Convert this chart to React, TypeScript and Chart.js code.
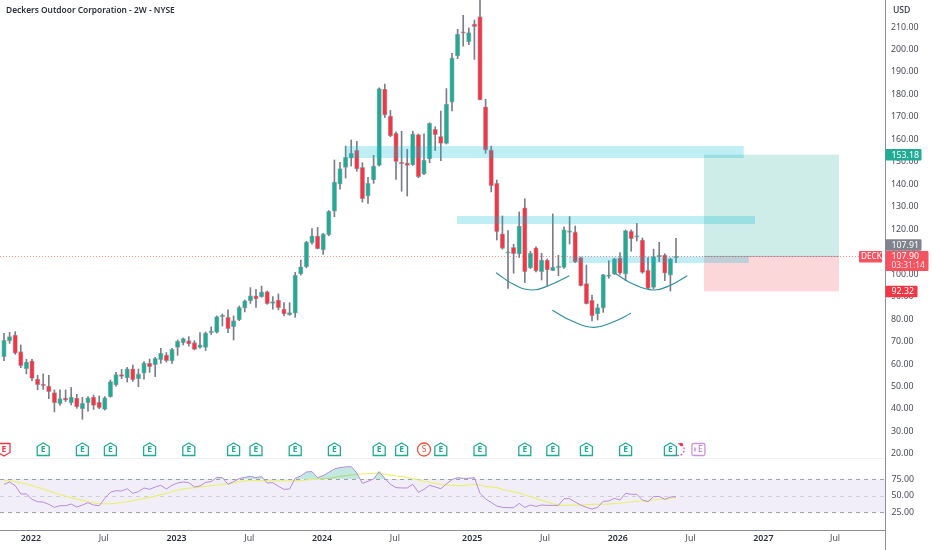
import React, { useEffect, useRef } from "react";
import { Chart, registerables } from "chart.js";

Chart.register(...registerables);

const chartTitle = "Deckers Outdoor Corporation - 2W - NYSE";
const FONT = '"Noto Sans", sans-serif';

const opens = [
  63.3,70.4,72.9,65.5,57.9,61.4,53.3,51.1,50.2,47.3,
  42.4,44.9,42.7,44.9,40.1,42.8,45.3,43.0,39.8,45.5,
  50.7,55.3,53.8,57.9,53.5,55.9,60.3,59.7,62.0,64.0,
  61.4,67.4,69.5,70.4,69.5,67.4,67.4,74.0,74.1,81.1,
  80.8,76.6,79.6,84.9,88.2,90.4,90.0,92.2,87.0,88.5,
  84.5,82.0,82.6,100.1,103.3,114.0,117.0,110.8,117.6,128.0,
  140.0,147.5,151.6,155.1,147.5,134.8,141.9,148.4,182.4,170.4,
  162.7,149.8,149.5,148.6,162.1,144.6,151.3,164.5,161.3,158.2,
  176.5,197.1,207.8,203.5,211.3,214.6,174.5,155.3,140.4,118.0,
  109.3,111.9,109.0,129.5,102.8,111.7,101.1,106.3,101.6,102.9,
  103.0,118.6,118.8,107.4,95.8,88.4,82.3,84.9,99.0,100.1,
  107.2,100.1,119.1,116.5,115.2,101.7,94.1,107.8,108.5,99.6,
  107.3,
];
const closes = [
  70.6,72.2,64.8,59.3,60.9,53.6,50.8,50.4,47.7,42.8,
  44.6,43.9,45.3,40.9,42.5,45.0,41.6,40.6,45.0,52.2,
  55.3,54.5,57.9,53.0,55.6,60.5,58.8,62.5,64.8,61.5,
  66.5,70.1,71.3,68.9,66.5,68.6,73.8,74.4,81.1,81.4,
  75.7,79.3,85.2,88.1,90.4,89.0,92.1,86.9,87.8,85.1,
  82.3,82.9,99.6,103.3,114.3,117.1,111.3,117.9,128.0,141.0,
  147.0,152.0,153.8,146.8,133.6,140.4,148.1,182.6,170.8,161.5,
  150.1,149.2,148.4,162.4,143.4,150.8,167.1,162.1,158.2,175.7,
  196.2,206.9,207.2,207.5,210.2,177.5,155.3,139.4,118.9,111.5,
  109.9,109.1,121.4,101.1,109.3,101.4,106.3,101.9,103.2,103.3,
  119.7,119.1,105.4,94.9,86.9,81.5,85.1,99.8,99.5,106.8,
  100.4,119.4,115.8,117.1,100.8,93.7,107.8,108.5,100.4,106.8,
  107.9,
];
const highs = [
  73.7,74.1,74.4,68.5,62.1,62.1,55.0,55.6,55.0,48.5,
  48.5,48.5,49.6,46.5,45.2,45.5,46.2,45.8,45.5,52.9,
  56.3,57.6,58.5,59.6,57.8,61.1,62.2,63.0,67.0,65.1,
  67.0,70.7,71.6,72.2,70.4,74.0,74.3,76.6,81.4,82.3,
  84.1,81.4,85.8,88.5,94.0,93.3,94.7,92.5,90.0,91.2,
  87.3,87.3,100.8,106.3,114.6,120.3,120.8,118.2,128.3,150.8,
  149.8,157.0,159.7,159.1,149.6,143.1,152.9,182.9,184.6,172.9,
  163.3,163.6,155.6,163.6,162.4,162.4,167.4,165.6,172.6,182.6,
  198.3,209.0,215.2,209.6,213.1,224.5,177.8,157.0,141.9,125.9,
  119.4,113.3,127.7,133.6,110.2,112.2,109.3,106.8,126.8,108.4,
  121.1,125.6,121.4,107.6,104.1,90.7,86.7,99.9,106.0,107.1,
  109.6,119.7,119.7,122.6,116.1,107.4,111.1,114.2,109.1,107.1,
  116.0,
];
const lows = [
  61.5,69.2,64.3,58.4,55.6,52.6,48.5,48.7,44.6,38.7,
  41.6,43.3,41.8,40.3,35.4,39.0,39.8,40.1,39.5,45.2,
  50.2,53.5,52.0,52.3,49.9,53.3,56.3,54.4,60.3,60.9,
  60.3,63.9,68.5,68.0,66.3,67.1,66.0,73.1,73.8,76.9,
  74.0,70.7,79.3,83.2,87.0,85.2,89.7,86.6,84.4,84.1,
  81.4,81.7,80.8,99.6,102.8,113.4,111.2,108.8,117.1,125.6,
  137.8,142.8,148.1,145.8,132.1,131.5,140.4,148.1,169.7,161.2,
  142.2,136.9,134.8,148.4,142.9,144.3,149.6,155.0,150.5,157.9,
  172.6,195.9,201.5,202.1,195.6,177.5,153.8,136.6,115.2,111.1,
  93.7,100.4,107.4,96.2,102.5,101.0,97.4,94.7,101.6,99.3,
  102.6,113.4,105.1,94.7,86.7,79.2,79.6,83.0,98.2,99.8,
  99.9,97.1,110.2,114.8,100.4,93.4,93.6,105.6,97.1,92.5,
  105.1,
];

const rsiValues = [
  67.4,70.9,65.4,52.8,52.8,44.7,41.1,40.6,37.1,32.6,
  35.1,35.1,37.6,33.1,36.1,39.6,36.1,35.1,46.2,55.3,
  57.8,57.3,60.8,53.8,56.3,61.9,59.8,63.4,65.9,60.3,
  65.9,69.4,70.9,69.9,63.4,64.9,70.4,71.4,78.0,77.5,
  67.4,71.5,76.0,78.0,79.5,77.5,79.0,69.4,69.9,64.4,
  59.8,60.3,76.5,80.0,86.1,86.6,77.5,80.5,85.6,90.6,
  92.7,93.7,94.2,84.6,68.9,72.0,75.5,86.6,76.5,67.4,
  62.4,61.9,61.9,67.4,55.3,59.8,65.9,63.4,60.8,67.9,
  74.5,77.5,76.5,76.5,77.5,53.8,45.2,40.1,34.6,32.6,
  32.1,32.1,38.6,32.6,36.1,34.1,36.1,35.6,35.6,35.6,
  45.7,45.7,40.6,36.1,32.6,30.0,32.6,41.7,42.2,46.2,
  43.7,53.8,52.3,52.3,43.7,41.2,48.7,49.2,44.7,48.2,
  48.7,
];
const rsiAverage = [
  73.0,72.5,71.5,69.4,67.9,65.4,62.9,60.3,57.3,54.3,
  51.8,49.7,47.2,45.2,43.2,41.1,39.6,38.1,38.1,38.1,
  39.1,40.1,41.1,42.7,44.2,46.2,47.7,49.7,51.8,53.8,
  56.3,58.8,60.3,61.4,62.4,63.4,64.4,65.4,66.4,67.4,
  67.9,69.4,71.5,72.5,73.0,73.0,73.0,73.0,72.5,72.5,
  72.5,72.5,73.0,73.0,74.0,74.5,75.0,75.5,76.5,78.0,
  79.5,80.5,81.6,82.6,83.1,83.6,84.1,84.1,82.6,81.6,
  80.0,79.0,77.5,76.0,74.0,72.0,70.4,68.9,67.4,66.4,
  65.9,65.4,65.4,66.4,67.4,66.4,64.4,63.4,62.4,59.8,
  57.8,55.8,54.3,51.3,48.7,46.2,43.2,40.6,38.1,36.1,
  35.6,35.6,36.1,36.1,36.6,37.1,37.1,37.6,37.6,38.1,
  39.1,40.1,41.1,41.7,42.2,42.2,43.7,44.7,45.2,46.2,
  47.2,
];

const priceTicks = [20,30,40,50,60,70,80,90,100,110,120,130,140,150,160,170,180,190,200,210];
const rsiTicks = [75, 50, 25];
const timeTickBars = [4.8,17.8,30.8,43.8,56.8,69.8,83.6,96.6,109.6,122.6,135.6,148.4];
const timeTickLabels = ["2022","Jul","2023","Jul","2024","Jul","2025","Jul","2026","Jul","2027","Jul"];

const zoneStarts = [60.9, 80.9, 100.9];
const zoneEnds = [132.1, 134.1, 133.0];
const zoneTops = [157.0, 125.9, 107.9];
const zoneBottoms = [151.7, 122.3, 105.0];

const positionStart = 125;
const positionEnd = 149.1;
const targetPrice = 153.18;
const entryPrice = 107.9;
const stopPrice = 92.32;

const arcBars = [
  [87.86, 90.89, 94.23, 97.5, 100.95],
  [97.91, 101.43, 105.23, 108.75, 111.96],
  [109.11, 112.32, 115.95, 119.11, 122.02],
];
const arcPrices = [
  [100.65, 95.62, 92.95, 95.18, 99.32],
  [83.92, 79.16, 76.36, 78.71, 82.58],
  [100.39, 95.62, 92.95, 95.18, 99.32],
];

const earningsBars = [7,14,19,26,33,41,45,52,59,67,71,78,85,93,98,104,111,119];
const pastEarningsBar = 0;
const splitBar = 75;
const dividendBar = 120.4;
const nextEarningsBar = 124;

const GREEN = "#22ab94";
const RED = "#f23645";
const WICK = "#7b7e89";
const TEXT = "#4a4d57";

function overlayPlugin() {
  return {
    id: "overlay",
    beforeDatasetsDraw(chart: any) {
      const { ctx, chartArea, scales } = chart;
      const r = scales.yRsi;
      ctx.save();
      ctx.fillStyle = "rgba(126,87,194,0.1)";
      ctx.fillRect(chartArea.left, r.getPixelForValue(75), chartArea.width, r.getPixelForValue(25) - r.getPixelForValue(75));
      ctx.lineWidth = 1;
      ctx.setLineDash([4, 4]);
      rsiTicks.forEach((v, i) => {
        const y = Math.round(r.getPixelForValue(v)) + 0.5;
        ctx.strokeStyle = i === 1 ? "#cfd0d6" : "#a0a2aa";
        ctx.beginPath();
        ctx.moveTo(chartArea.left, y);
        ctx.lineTo(chartArea.right, y);
        ctx.stroke();
      });
      ctx.setLineDash([]);
      ctx.strokeStyle = "#eef0f6";
      ctx.beginPath();
      ctx.moveTo(chartArea.left, 458.5);
      ctx.lineTo(chartArea.right, 458.5);
      ctx.stroke();
      ctx.restore();
    },
    afterDatasetsDraw(chart: any) {
      const { ctx, chartArea, scales } = chart;
      const x = scales.x;
      const y = scales.y;
      const px = (v: number) => x.getPixelForValue(v);
      const py = (v: number) => y.getPixelForValue(v);
      ctx.save();

      const left = px(positionStart);
      const w = px(positionEnd) - left;
      ctx.fillStyle = "rgba(34,171,148,0.22)";
      ctx.fillRect(left, py(targetPrice), w, py(entryPrice) - py(targetPrice));
      ctx.fillStyle = "rgba(242,54,69,0.2)";
      ctx.fillRect(left, py(entryPrice), w, py(stopPrice) - py(entryPrice));
      ctx.fillStyle = "rgba(120,123,134,0.5)";
      ctx.fillRect(left, py(entryPrice) - 0.5, w, 1);

      ctx.fillStyle = "rgba(0,188,212,0.25)";
      zoneStarts.forEach((s, i) => {
        const l = px(s);
        const t = py(zoneTops[i]);
        ctx.fillRect(l, t, px(zoneEnds[i]) - l, py(zoneBottoms[i]) - t);
      });

      ctx.strokeStyle = "rgba(242,54,69,0.55)";
      ctx.lineWidth = 1;
      ctx.setLineDash([1, 2]);
      ctx.beginPath();
      const ly = Math.round(py(entryPrice)) + 0.5;
      ctx.moveTo(chartArea.left, ly);
      ctx.lineTo(859, ly);
      ctx.stroke();
      ctx.setLineDash([]);

      // event badges
      const cy = 449.5;
      ctx.textAlign = "center";
      ctx.textBaseline = "middle";
      const house = (cx: number, color: string, down: boolean) => {
        const l = cx - 6;
        const r = cx + 6;
        ctx.beginPath();
        if (down) {
          ctx.moveTo(l, cy - 6);
          ctx.lineTo(r, cy - 6);
          ctx.lineTo(r, cy + 3);
          ctx.lineTo(cx, cy + 6.5);
          ctx.lineTo(l, cy + 3);
        } else {
          ctx.moveTo(l, cy - 3);
          ctx.lineTo(cx, cy - 6.5);
          ctx.lineTo(r, cy - 3);
          ctx.lineTo(r, cy + 6);
          ctx.lineTo(l, cy + 6);
        }
        ctx.closePath();
        ctx.fillStyle = "#ffffff";
        ctx.fill();
        ctx.strokeStyle = color;
        ctx.lineWidth = 1.3;
        ctx.stroke();
        ctx.fillStyle = color;
        ctx.font = `bold 8.5px ${FONT}`;
        ctx.fillText("E", cx, cy + 0.5);
      };
      house(px(pastEarningsBar), RED, true);
      earningsBars.forEach((b) => house(px(b), GREEN, false));

      const sx = px(splitBar);
      ctx.beginPath();
      ctx.arc(sx, cy, 6.5, 0, Math.PI * 2);
      ctx.fillStyle = "#fff";
      ctx.fill();
      ctx.strokeStyle = "#f0503c";
      ctx.lineWidth = 1.3;
      ctx.stroke();
      ctx.fillStyle = "#f0503c";
      ctx.font = `8.5px ${FONT}`;
      ctx.fillText("S", sx, cy + 0.5);

      const dx = px(dividendBar);
      ctx.setLineDash([2, 1.5]);
      ctx.strokeStyle = "#ba68c8";
      ctx.beginPath();
      ctx.arc(dx, cy, 6, -Math.PI * 0.5, Math.PI * 0.6);
      ctx.stroke();
      ctx.setLineDash([]);
      ctx.fillStyle = RED;
      ctx.beginPath();
      ctx.arc(dx + 3, 444.5, 1.8, 0, Math.PI * 2);
      ctx.fill();

      const nx = px(nextEarningsBar);
      ctx.strokeStyle = "#ce93d8";
      ctx.lineWidth = 1.3;
      ctx.fillStyle = "#fff";
      ctx.beginPath();
      ctx.roundRect(nx - 6.5, cy - 6, 13, 12, 1.5);
      ctx.fill();
      ctx.stroke();
      ctx.fillStyle = "#ba68c8";
      ctx.font = `8.5px ${FONT}`;
      ctx.fillText("E", nx + 2, cy + 0.5);
      ctx.fillStyle = "#d9a8e2";
      ctx.fillRect(nx - 4.5, cy - 2, 2, 4);
      ctx.restore();
    },
    afterDraw(chart: any) {
      const { ctx, chartArea, scales } = chart;
      const r = scales.yRsi;
      const y = scales.y;
      const ax = chartArea.right;
      ctx.save();

      // axis line continues down through the time scale
      ctx.strokeStyle = "#8b8e98";
      ctx.lineWidth = 1;
      ctx.beginPath();
      ctx.moveTo(ax + 0.5, chartArea.bottom);
      ctx.lineTo(ax + 0.5, 550);
      ctx.stroke();

      ctx.textBaseline = "middle";
      ctx.textAlign = "left";
      ctx.fillStyle = TEXT;
      ctx.font = `8.8px ${FONT}`;
      rsiTicks.forEach((v) => ctx.fillText(v.toFixed(2), ax + 6.5, r.getPixelForValue(v)));

      ctx.fillStyle = "#2a2e39";
      ctx.font = `500 8.6px ${FONT}`;
      ctx.fillText("USD", ax + 8, 11);

      const tag = (text: string, cyy: number, bg: string, w: number, h = 11.5) => {
        ctx.fillStyle = bg;
        ctx.beginPath();
        ctx.roundRect(ax + 0.5, cyy - h / 2, w, h, 1);
        ctx.fill();
        ctx.fillStyle = "#ffffff";
        ctx.font = `8.8px ${FONT}`;
        ctx.fillText(text, ax + 6.5, cyy + 0.5);
      };
      tag(targetPrice.toFixed(2), y.getPixelForValue(targetPrice), GREEN, 36);
      tag("107.91", 245, "#80838d", 36);

      const ey = y.getPixelForValue(entryPrice);
      ctx.fillStyle = "#f7525f";
      ctx.beginPath();
      ctx.roundRect(ax + 0.5, ey - 5.5, 43, 20, 1);
      ctx.fill();
      ctx.fillStyle = "#ffffff";
      ctx.font = `8.8px ${FONT}`;
      ctx.fillText("107.90", ax + 6.5, ey + 0.5);
      ctx.font = `8.4px ${FONT}`;
      ctx.fillStyle = "rgba(255,255,255,0.85)";
      ctx.fillText("03:31:14", ax + 6.5, ey + 9.5);

      ctx.fillStyle = "#f7525f";
      ctx.beginPath();
      ctx.roundRect(859, ey - 5.5, 23, 11.5, 1);
      ctx.fill();
      ctx.fillStyle = "#ffffff";
      ctx.font = `8.2px ${FONT}`;
      ctx.fillText("DECK", 861, ey + 0.5);

      tag(stopPrice.toFixed(2), y.getPixelForValue(stopPrice), RED, 32);

      ctx.fillStyle = "#2a2e39";
      ctx.font = `600 8.4px ${FONT}`;
      ctx.textAlign = "left";
      ctx.fillText(chartTitle, 6, 11);
      ctx.restore();
    },
  };
}

const zeroPadding = (s: any) => {
  s.paddingTop = 0;
  s.paddingBottom = 0;
  s.paddingLeft = 0;
  s.paddingRight = 0;
};

export default function App() {
  const ref = useRef<HTMLCanvasElement>(null);
  useEffect(() => {
    document.body.style.margin = "0";
    const bars = opens.map((_, i) => i);
    const candleColors = opens.map((o, i) => (closes[i] >= o ? GREEN : RED));
    const chart = new Chart(ref.current as HTMLCanvasElement, {
      type: "bar",
      data: {
        datasets: [
          ...arcBars.map((ab, k) => ({
            type: "line" as const,
            label: `arc ${k + 1}`,
            data: ab.map((b, i) => ({ x: b, y: arcPrices[k][i] })),
            borderColor: "#2f8fa0",
            borderWidth: 1.2,
            pointRadius: 0,
            tension: 0.45,
            xAxisID: "x",
            yAxisID: "y",
            order: 0,
          })),
          {
            type: "line" as const,
            label: "RSI",
            data: bars.map((b) => ({ x: b, y: rsiValues[b] })),
            borderColor: "#b68bdc",
            borderWidth: 1,
            pointRadius: 0,
            tension: 0,
            fill: { target: { value: 75 }, above: "rgba(34,171,148,0.28)", below: "rgba(0,0,0,0)" },
            xAxisID: "x",
            yAxisID: "yRsi",
            order: 1,
          },
          {
            type: "line" as const,
            label: "RSI MA",
            data: bars.map((b) => ({ x: b, y: rsiAverage[b] })),
            borderColor: "#e9f07a",
            borderWidth: 1.2,
            pointRadius: 0,
            tension: 0.3,
            xAxisID: "x",
            yAxisID: "yRsi",
            order: 2,
          },
          {
            label: "body",
            data: bars.map((b) => ({ x: b, y: [opens[b], closes[b]] })),
            backgroundColor: candleColors,
            borderColor: "rgba(123,126,137,0.55)",
            borderWidth: 0.8,
            borderSkipped: false,
            barThickness: 4.6,
            minBarLength: 1.5,
            grouped: false,
            xAxisID: "x",
            yAxisID: "y",
            order: 3,
          },
          {
            label: "wick",
            data: bars.map((b) => ({ x: b, y: [lows[b], highs[b]] })),
            backgroundColor: WICK,
            borderWidth: 0,
            barThickness: 1,
            grouped: false,
            xAxisID: "x",
            yAxisID: "y",
            order: 4,
          },
        ],
      },
      options: {
        responsive: false,
        animation: false,
        layout: { padding: 0 },
        plugins: { legend: { display: false }, tooltip: { enabled: false }, title: { display: false } },
        scales: {
          x: {
            type: "linear",
            offset: false,
            min: -0.714,
            max: 157.32,
            grid: { display: false, offset: false, drawTicks: false },
            border: { display: true, color: "#8b8e98", width: 1 },
            afterFit(s: any) { s.height = 20; zeroPadding(s); },
            afterBuildTicks(s: any) { s.ticks = timeTickBars.map((value) => ({ value })); },
            ticks: {
              autoSkip: false,
              maxRotation: 0,
              padding: 3,
              color: (c: any) => (/^\d/.test(timeTickLabels[c.index] || "") ? "#2a2e39" : TEXT),
              font: (c: any) => ({
                family: FONT,
                size: 8.8,
                weight: /^\d/.test(timeTickLabels[c.index] || "") ? "600" : "400",
              }),
              callback: (_: any, i: number) => timeTickLabels[i],
            },
          },
          y: {
            type: "linear",
            position: "right",
            min: -13.86,
            max: 222.016,
            grid: { display: false, drawTicks: false },
            border: { display: true, color: "#8b8e98", width: 1 },
            afterFit(s: any) { s.width = 47; zeroPadding(s); },
            afterBuildTicks(s: any) { s.ticks = priceTicks.map((value) => ({ value })); },
            ticks: {
              autoSkip: false,
              padding: 6,
              color: TEXT,
              font: { family: FONT, size: 8.8 },
              callback: (v: any) => Number(v).toFixed(2),
            },
          },
          yRsi: {
            type: "linear",
            display: false,
            min: -1.6,
            max: 799,
          },
        },
      } as any,
      plugins: [overlayPlugin()],
    } as any);
    return () => chart.destroy();
  }, []);
  return (
    <div style={{ position: "fixed", left: 0, top: 0, width: 932, height: 550, background: "#fff" }}>
      <canvas ref={ref} width={932} height={550} style={{ display: "block", width: 932, height: 550 }} />
    </div>
  );
}
